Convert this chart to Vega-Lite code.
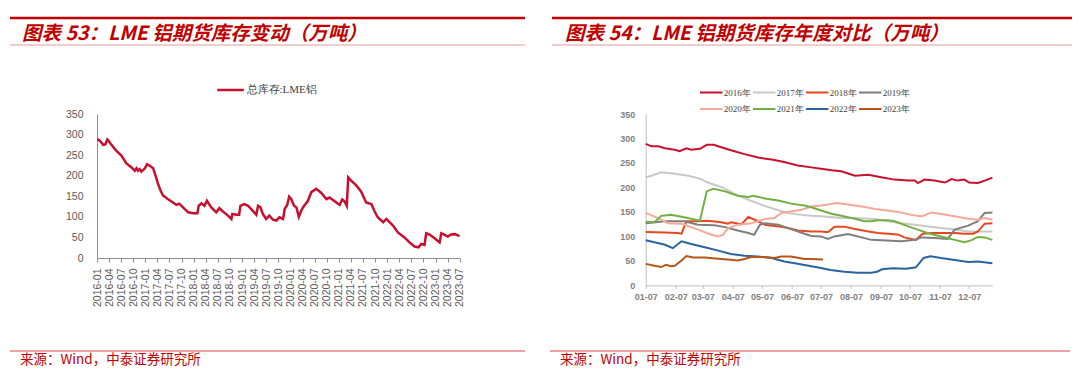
{
  "$schema": "https://vega.github.io/schema/vega-lite/v6.json",
  "padding": {"left": 8, "top": 16, "right": 0, "bottom": 0},
  "background": "white",
  "config": {
    "view": {"stroke": null},
    "font": "Liberation Sans",
    "axis": {"grid": false, "title": null, "labelFont": "Liberation Sans"}
  },
  "datasets": {
    "hdrL": [{"t": "图表 53：LME 铝期货库存变动（万吨）"}],
    "hdrR": [{"t": "图表 54：LME 铝期货库存年度对比（万吨）"}],
    "src": [{"t": "来源：Wind，中泰证券研究所"}],
    "lme": [
      {"d":"2016-01-04","v":289},{"d":"2016-01-22","v":285},{"d":"2016-02-04","v":280},{"d":"2016-02-16","v":275},
      {"d":"2016-03-04","v":276},{"d":"2016-03-19","v":288},{"d":"2016-03-28","v":285},{"d":"2016-04-19","v":275},
      {"d":"2016-05-25","v":261},{"d":"2016-07-03","v":249},{"d":"2016-08-10","v":230},{"d":"2016-09-18","v":220},
      {"d":"2016-10-12","v":212},{"d":"2016-10-25","v":218},{"d":"2016-11-06","v":212},{"d":"2016-11-19","v":216},
      {"d":"2016-12-01","v":210},{"d":"2016-12-28","v":218},{"d":"2017-01-13","v":228},{"d":"2017-02-03","v":224},
      {"d":"2017-02-28","v":218},{"d":"2017-03-18","v":200},{"d":"2017-04-06","v":180},{"d":"2017-04-25","v":164},
      {"d":"2017-05-13","v":152},{"d":"2017-06-21","v":143},{"d":"2017-07-28","v":135},{"d":"2017-08-22","v":129},
      {"d":"2017-09-12","v":132},{"d":"2017-10-12","v":123},{"d":"2017-11-19","v":111},{"d":"2017-12-27","v":109},
      {"d":"2018-01-28","v":109},{"d":"2018-02-07","v":127},{"d":"2018-02-28","v":133},{"d":"2018-03-22","v":127},
      {"d":"2018-04-10","v":139},{"d":"2018-05-13","v":123},{"d":"2018-06-19","v":111},{"d":"2018-07-13","v":121},
      {"d":"2018-08-09","v":113},{"d":"2018-09-16","v":103},{"d":"2018-10-12","v":95},{"d":"2018-10-19","v":107},
      {"d":"2018-11-19","v":105},{"d":"2018-12-09","v":105},{"d":"2018-12-19","v":127},{"d":"2019-01-16","v":131},
      {"d":"2019-02-15","v":127},{"d":"2019-03-10","v":119},{"d":"2019-04-18","v":105},{"d":"2019-05-01","v":127},
      {"d":"2019-05-19","v":123},{"d":"2019-06-06","v":107},{"d":"2019-07-01","v":95},{"d":"2019-07-25","v":103},
      {"d":"2019-08-22","v":93},{"d":"2019-09-15","v":91},{"d":"2019-10-10","v":99},{"d":"2019-11-06","v":95},
      {"d":"2019-11-18","v":119},{"d":"2019-12-07","v":129},{"d":"2019-12-22","v":149},{"d":"2020-01-07","v":143},
      {"d":"2020-01-28","v":127},{"d":"2020-02-15","v":123},{"d":"2020-03-04","v":100},{"d":"2020-03-22","v":115},
      {"d":"2020-04-04","v":123},{"d":"2020-05-12","v":139},{"d":"2020-06-06","v":160},{"d":"2020-07-13","v":168},
      {"d":"2020-08-21","v":158},{"d":"2020-09-28","v":143},{"d":"2020-10-22","v":147},{"d":"2020-12-12","v":135},
      {"d":"2021-01-06","v":129},{"d":"2021-01-25","v":142},{"d":"2021-02-13","v":137},{"d":"2021-03-01","v":127},
      {"d":"2021-03-12","v":196},{"d":"2021-04-03","v":188},{"d":"2021-05-10","v":177},{"d":"2021-06-18","v":161},
      {"d":"2021-07-25","v":135},{"d":"2021-09-03","v":131},{"d":"2021-09-27","v":113},{"d":"2021-10-21","v":99},
      {"d":"2021-12-01","v":87},{"d":"2021-12-25","v":95},{"d":"2022-02-13","v":79},{"d":"2022-03-22","v":62},
      {"d":"2022-05-10","v":50},{"d":"2022-06-18","v":38},{"d":"2022-07-25","v":28},{"d":"2022-08-25","v":26},
      {"d":"2022-09-15","v":34},{"d":"2022-10-09","v":32},{"d":"2022-10-22","v":60},{"d":"2022-11-16","v":57},
      {"d":"2022-12-24","v":48},{"d":"2023-01-31","v":38},{"d":"2023-02-13","v":60},{"d":"2023-03-07","v":57},
      {"d":"2023-04-03","v":52},{"d":"2023-04-28","v":57},{"d":"2023-05-28","v":58},{"d":"2023-06-30","v":53}
    ],
    "yoy": [
      {"s":"2016年","d":"2001-01-07","v":289},{"s":"2016年","d":"2001-01-13","v":284},{"s":"2016年","d":"2001-01-20","v":284},
      {"s":"2016年","d":"2001-01-27","v":280},{"s":"2016年","d":"2001-02-06","v":277},{"s":"2016年","d":"2001-02-11","v":274},
      {"s":"2016年","d":"2001-02-18","v":280},{"s":"2016年","d":"2001-02-23","v":277},{"s":"2016年","d":"2001-03-04","v":279},
      {"s":"2016年","d":"2001-03-11","v":287},{"s":"2016年","d":"2001-03-18","v":287},{"s":"2016年","d":"2001-03-26","v":282},
      {"s":"2016年","d":"2001-04-05","v":276},{"s":"2016年","d":"2001-04-19","v":268},{"s":"2016年","d":"2001-05-03","v":261},
      {"s":"2016年","d":"2001-05-17","v":257},{"s":"2016年","d":"2001-05-30","v":252},{"s":"2016年","d":"2001-06-13","v":245},
      {"s":"2016年","d":"2001-06-27","v":241},{"s":"2016年","d":"2001-07-07","v":238},{"s":"2016年","d":"2001-07-18","v":235},
      {"s":"2016年","d":"2001-07-28","v":233},{"s":"2016年","d":"2001-08-11","v":224},{"s":"2016年","d":"2001-08-25","v":226},
      {"s":"2016年","d":"2001-09-07","v":221},{"s":"2016年","d":"2001-09-21","v":216},{"s":"2016年","d":"2001-10-05","v":214},
      {"s":"2016年","d":"2001-10-12","v":214},{"s":"2016年","d":"2001-10-15","v":209},{"s":"2016年","d":"2001-10-22","v":216},
      {"s":"2016年","d":"2001-11-01","v":214},{"s":"2016年","d":"2001-11-12","v":210},{"s":"2016年","d":"2001-11-19","v":217},
      {"s":"2016年","d":"2001-11-25","v":214},{"s":"2016年","d":"2001-12-02","v":216},{"s":"2016年","d":"2001-12-07","v":210},
      {"s":"2016年","d":"2001-12-16","v":209},{"s":"2016年","d":"2001-12-23","v":214},{"s":"2016年","d":"2001-12-31","v":220},

      {"s":"2017年","d":"2001-01-07","v":221},{"s":"2017年","d":"2001-01-13","v":224},{"s":"2017年","d":"2001-01-23","v":231},
      {"s":"2017年","d":"2001-02-06","v":228},{"s":"2017年","d":"2001-02-20","v":224},{"s":"2017年","d":"2001-03-04","v":218},
      {"s":"2017年","d":"2001-03-12","v":210},{"s":"2017年","d":"2001-03-26","v":201},{"s":"2017年","d":"2001-04-09","v":187},
      {"s":"2017年","d":"2001-04-23","v":175},{"s":"2017年","d":"2001-05-06","v":165},{"s":"2017年","d":"2001-05-20","v":156},
      {"s":"2017年","d":"2001-06-03","v":148},{"s":"2017年","d":"2001-06-17","v":144},{"s":"2017年","d":"2001-06-27","v":142},
      {"s":"2017年","d":"2001-07-07","v":141},{"s":"2017年","d":"2001-07-28","v":137.5},{"s":"2017年","d":"2001-08-11","v":137.5},
      {"s":"2017年","d":"2001-09-01","v":135.5},{"s":"2017年","d":"2001-09-14","v":131},{"s":"2017年","d":"2001-09-28","v":127},
      {"s":"2017年","d":"2001-10-12","v":124},{"s":"2017年","d":"2001-10-26","v":120.5},{"s":"2017年","d":"2001-11-08","v":117},
      {"s":"2017年","d":"2001-11-22","v":114},{"s":"2017年","d":"2001-12-06","v":110},{"s":"2017年","d":"2001-12-20","v":110},
      {"s":"2017年","d":"2001-12-31","v":110},

      {"s":"2018年","d":"2001-01-07","v":109},{"s":"2018年","d":"2001-01-27","v":108},{"s":"2018年","d":"2001-02-09","v":107},
      {"s":"2018年","d":"2001-02-13","v":105.6},{"s":"2018年","d":"2001-02-18","v":131},{"s":"2018年","d":"2001-03-02","v":131},
      {"s":"2018年","d":"2001-03-12","v":132},{"s":"2018年","d":"2001-03-26","v":129},{"s":"2018年","d":"2001-04-02","v":126},
      {"s":"2018年","d":"2001-04-05","v":129},{"s":"2018年","d":"2001-04-16","v":125},{"s":"2018年","d":"2001-04-23","v":140},
      {"s":"2018年","d":"2001-05-03","v":131},{"s":"2018年","d":"2001-05-10","v":124},{"s":"2018年","d":"2001-05-24","v":120.5},
      {"s":"2018年","d":"2001-06-03","v":117},{"s":"2018年","d":"2001-06-13","v":112},{"s":"2018年","d":"2001-06-27","v":110},
      {"s":"2018年","d":"2001-07-07","v":110},{"s":"2018年","d":"2001-07-14","v":108.5},{"s":"2018年","d":"2001-07-21","v":120},
      {"s":"2018年","d":"2001-07-31","v":120},{"s":"2018年","d":"2001-08-11","v":115},{"s":"2018年","d":"2001-08-25","v":110},
      {"s":"2018年","d":"2001-09-04","v":107},{"s":"2018年","d":"2001-09-18","v":105},{"s":"2018年","d":"2001-09-25","v":103.5},
      {"s":"2018年","d":"2001-10-01","v":98},{"s":"2018年","d":"2001-10-13","v":93},{"s":"2018年","d":"2001-10-20","v":105.6},
      {"s":"2018年","d":"2001-10-29","v":107},{"s":"2018年","d":"2001-11-12","v":107},{"s":"2018年","d":"2001-11-22","v":107},
      {"s":"2018年","d":"2001-12-02","v":105.6},{"s":"2018年","d":"2001-12-11","v":105.6},{"s":"2018年","d":"2001-12-16","v":110},
      {"s":"2018年","d":"2001-12-23","v":126},{"s":"2018年","d":"2001-12-31","v":127},

      {"s":"2019年","d":"2001-01-07","v":127},{"s":"2019年","d":"2001-01-27","v":131},{"s":"2019年","d":"2001-02-16","v":131},
      {"s":"2019年","d":"2001-03-02","v":124},{"s":"2019年","d":"2001-03-19","v":122.6},{"s":"2019年","d":"2001-03-30","v":119},
      {"s":"2019年","d":"2001-04-12","v":112},{"s":"2019年","d":"2001-04-23","v":107},{"s":"2019年","d":"2001-04-29","v":103.5},
      {"s":"2019年","d":"2001-05-05","v":124},{"s":"2019年","d":"2001-05-10","v":127},{"s":"2019年","d":"2001-05-24","v":124},
      {"s":"2019年","d":"2001-06-06","v":115},{"s":"2019年","d":"2001-06-20","v":105.6},{"s":"2019年","d":"2001-06-27","v":101},
      {"s":"2019年","d":"2001-07-07","v":100},{"s":"2019年","d":"2001-07-14","v":94.7},{"s":"2019年","d":"2001-07-21","v":100},
      {"s":"2019年","d":"2001-08-04","v":105},{"s":"2019年","d":"2001-08-28","v":93},{"s":"2019年","d":"2001-09-28","v":90},
      {"s":"2019年","d":"2001-10-12","v":93},{"s":"2019年","d":"2001-10-19","v":98},{"s":"2019年","d":"2001-11-01","v":96.7},
      {"s":"2019年","d":"2001-11-15","v":95},{"s":"2019年","d":"2001-11-22","v":114},{"s":"2019年","d":"2001-12-06","v":122},
      {"s":"2019年","d":"2001-12-16","v":131},{"s":"2019年","d":"2001-12-23","v":148},{"s":"2019年","d":"2001-12-31","v":149},

      {"s":"2020年","d":"2001-01-07","v":148},{"s":"2020年","d":"2001-01-20","v":137.5},{"s":"2020年","d":"2001-01-30","v":127},
      {"s":"2020年","d":"2001-02-13","v":126},{"s":"2020年","d":"2001-03-02","v":114},{"s":"2020年","d":"2001-03-16","v":103.5},
      {"s":"2020年","d":"2001-03-23","v":100},{"s":"2020年","d":"2001-03-28","v":103.5},{"s":"2020年","d":"2001-04-02","v":117},
      {"s":"2020年","d":"2001-04-12","v":124},{"s":"2020年","d":"2001-04-26","v":127},{"s":"2020年","d":"2001-05-10","v":135.5},
      {"s":"2020年","d":"2001-05-20","v":137.5},{"s":"2020年","d":"2001-05-27","v":148},{"s":"2020年","d":"2001-06-06","v":151},
      {"s":"2020年","d":"2001-06-17","v":154.5},{"s":"2020年","d":"2001-06-27","v":161},{"s":"2020年","d":"2001-07-07","v":163},
      {"s":"2020年","d":"2001-07-14","v":165},{"s":"2020年","d":"2001-07-23","v":168},{"s":"2020年","d":"2001-08-04","v":165},
      {"s":"2020年","d":"2001-08-18","v":161},{"s":"2020年","d":"2001-09-01","v":156},{"s":"2020年","d":"2001-09-14","v":153},
      {"s":"2020年","d":"2001-09-28","v":149},{"s":"2020年","d":"2001-10-08","v":144},{"s":"2020年","d":"2001-10-19","v":141},
      {"s":"2020年","d":"2001-10-29","v":149},{"s":"2020年","d":"2001-11-08","v":146},{"s":"2020年","d":"2001-11-22","v":141},
      {"s":"2020年","d":"2001-12-06","v":136},{"s":"2020年","d":"2001-12-16","v":134},{"s":"2020年","d":"2001-12-23","v":137.5},
      {"s":"2020年","d":"2001-12-31","v":134},

      {"s":"2021年","d":"2001-01-07","v":130},{"s":"2021年","d":"2001-01-16","v":129},{"s":"2021年","d":"2001-01-23","v":142},
      {"s":"2021年","d":"2001-02-02","v":144},{"s":"2021年","d":"2001-02-13","v":140},{"s":"2021年","d":"2001-02-23","v":136},
      {"s":"2021年","d":"2001-03-04","v":132},{"s":"2021年","d":"2001-03-11","v":192},{"s":"2021年","d":"2001-03-18","v":197.5},
      {"s":"2021年","d":"2001-03-30","v":192},{"s":"2021年","d":"2001-04-12","v":183},{"s":"2021年","d":"2001-04-23","v":180.5},
      {"s":"2021年","d":"2001-04-28","v":183},{"s":"2021年","d":"2001-05-10","v":177.5},{"s":"2021年","d":"2001-05-24","v":173.5},
      {"s":"2021年","d":"2001-06-06","v":167},{"s":"2021年","d":"2001-06-20","v":163},{"s":"2021年","d":"2001-06-27","v":159.5},
      {"s":"2021年","d":"2001-07-07","v":153},{"s":"2021年","d":"2001-07-18","v":146.4},{"s":"2021年","d":"2001-07-28","v":142.4},
      {"s":"2021年","d":"2001-08-11","v":136},{"s":"2021年","d":"2001-08-21","v":131},{"s":"2021年","d":"2001-08-28","v":131},
      {"s":"2021年","d":"2001-09-04","v":133},{"s":"2021年","d":"2001-09-14","v":133},{"s":"2021年","d":"2001-09-21","v":131},
      {"s":"2021年","d":"2001-10-05","v":120.5},{"s":"2021年","d":"2001-10-15","v":114},{"s":"2021年","d":"2001-10-25","v":107},
      {"s":"2021年","d":"2001-11-08","v":100},{"s":"2021年","d":"2001-11-22","v":93},{"s":"2021年","d":"2001-12-02","v":88},
      {"s":"2021年","d":"2001-12-09","v":92},{"s":"2021年","d":"2001-12-16","v":99},{"s":"2021年","d":"2001-12-23","v":98},
      {"s":"2021年","d":"2001-12-31","v":93},

      {"s":"2022年","d":"2001-01-07","v":92},{"s":"2022年","d":"2001-01-16","v":88},{"s":"2022年","d":"2001-01-27","v":83},
      {"s":"2022年","d":"2001-02-04","v":76},{"s":"2022年","d":"2001-02-13","v":90},{"s":"2022年","d":"2001-02-23","v":84.5},
      {"s":"2022年","d":"2001-03-09","v":78},{"s":"2022年","d":"2001-03-23","v":71},{"s":"2022年","d":"2001-04-05","v":64},
      {"s":"2022年","d":"2001-04-19","v":60.6},{"s":"2022年","d":"2001-05-03","v":59},{"s":"2022年","d":"2001-05-17","v":56},
      {"s":"2022年","d":"2001-05-30","v":49},{"s":"2022年","d":"2001-06-13","v":44},{"s":"2022年","d":"2001-06-27","v":39},
      {"s":"2022年","d":"2001-07-03","v":37},{"s":"2022年","d":"2001-07-17","v":31.4},{"s":"2022年","d":"2001-07-31","v":28},
      {"s":"2022年","d":"2001-08-14","v":26},{"s":"2022年","d":"2001-08-28","v":26},{"s":"2022年","d":"2001-09-03","v":28},
      {"s":"2022年","d":"2001-09-08","v":33},{"s":"2022年","d":"2001-09-19","v":35},{"s":"2022年","d":"2001-10-03","v":33.8},
      {"s":"2022年","d":"2001-10-13","v":37},{"s":"2022年","d":"2001-10-21","v":56},{"s":"2022年","d":"2001-10-28","v":59.7},
      {"s":"2022年","d":"2001-11-08","v":56},{"s":"2022年","d":"2001-11-22","v":52},{"s":"2022年","d":"2001-12-06","v":48},
      {"s":"2022年","d":"2001-12-16","v":49},{"s":"2022年","d":"2001-12-31","v":45},

      {"s":"2023年","d":"2001-01-07","v":44},{"s":"2023年","d":"2001-01-16","v":40},{"s":"2023年","d":"2001-01-23","v":37.5},
      {"s":"2023年","d":"2001-01-28","v":42},{"s":"2023年","d":"2001-02-02","v":39},{"s":"2023年","d":"2001-02-06","v":40},
      {"s":"2023年","d":"2001-02-13","v":51},{"s":"2023年","d":"2001-02-18","v":60},{"s":"2023年","d":"2001-02-25","v":57},
      {"s":"2023年","d":"2001-03-09","v":57},{"s":"2023年","d":"2001-03-23","v":54.5},{"s":"2023年","d":"2001-04-05","v":52.5},
      {"s":"2023年","d":"2001-04-12","v":51},{"s":"2023年","d":"2001-04-19","v":54},{"s":"2023年","d":"2001-04-26","v":58},
      {"s":"2023年","d":"2001-05-10","v":58},{"s":"2023年","d":"2001-05-20","v":56},{"s":"2023年","d":"2001-05-27","v":59},
      {"s":"2023年","d":"2001-06-06","v":59},{"s":"2023年","d":"2001-06-13","v":56.5},{"s":"2023年","d":"2001-06-20","v":54},
      {"s":"2023年","d":"2001-06-27","v":54},{"s":"2023年","d":"2001-07-09","v":53}
    ]
  },
  "spacing": 29,
  "vconcat": [
    {
      "spacing": 23,
      "hconcat": [
        {
          "width": 515, "height": 27,
          "data": {"name": "hdrL"},
          "layer": [
            {"mark": {"type": "rule", "color": "#C00000", "strokeWidth": 2.5},
             "encoding": {"y": {"datum": 1, "type": "quantitative", "scale": {"domain": [0, 1], "nice": false}, "axis": null}}},
            {"mark": {"type": "rule", "color": "#E39A9A", "strokeWidth": 1},
             "encoding": {"y": {"datum": 0, "type": "quantitative", "axis": null}}},
            {"mark": {"type": "text", "align": "left", "baseline": "middle", "dx": 12, "dy": 2, "font": "Noto Sans CJK SC", "fontSize": 19.5, "fontWeight": "bold", "fontStyle": "italic", "color": "#C00000"},
             "encoding": {"x": {"datum": 0, "type": "quantitative", "scale": {"domain": [0, 1], "nice": false}, "axis": null},
                          "y": {"datum": 0.5, "type": "quantitative", "axis": null},
                          "text": {"field": "t"}}}
          ]
        },
        {
          "width": 520, "height": 27,
          "data": {"name": "hdrR"},
          "layer": [
            {"mark": {"type": "rule", "color": "#C00000", "strokeWidth": 2.5},
             "encoding": {"y": {"datum": 1, "type": "quantitative", "scale": {"domain": [0, 1], "nice": false}, "axis": null}}},
            {"mark": {"type": "rule", "color": "#E39A9A", "strokeWidth": 1},
             "encoding": {"y": {"datum": 0, "type": "quantitative", "axis": null}}},
            {"mark": {"type": "text", "align": "left", "baseline": "middle", "dx": 13, "dy": 2, "font": "Noto Sans CJK SC", "fontSize": 19.5, "fontWeight": "bold", "fontStyle": "italic", "color": "#C00000"},
             "encoding": {"x": {"datum": 0, "type": "quantitative", "scale": {"domain": [0, 1], "nice": false}, "axis": null},
                          "y": {"datum": 0.5, "type": "quantitative", "axis": null},
                          "text": {"field": "t"}}}
          ]
        }
      ]
    },
    {
      "spacing": 81.7,
      "resolve": {"scale": {"color": "independent", "strokeWidth": "independent", "x": "independent", "y": "independent"}, "legend": {"color": "independent"}},
      "hconcat": [
        {
          "spacing": 0,
          "resolve": {"scale": {"color": "independent"}, "legend": {"color": "independent"}},
          "hconcat": [
            {
              "width": 1, "height": 1,
              "data": {"values": []},
              "mark": {"type": "point", "opacity": 0},
              "encoding": {}
            },
            {
              "width": 362.6, "height": 144,
              "data": {"name": "lme"},
              "mark": {"type": "line", "strokeWidth": 2.5, "interpolate": "linear"},
              "encoding": {
                "x": {"field": "d", "type": "temporal",
                      "scale": {"type": "utc", "domain": [{"year": 2016, "month": 1, "date": 1, "utc": true}, {"year": 2023, "month": 7, "date": 1, "utc": true}]},
                      "axis": {"values": [
                        {"year":2016,"month":1,"date":1,"utc":true},{"year":2016,"month":4,"date":1,"utc":true},{"year":2016,"month":7,"date":1,"utc":true},{"year":2016,"month":10,"date":1,"utc":true},
                        {"year":2017,"month":1,"date":1,"utc":true},{"year":2017,"month":4,"date":1,"utc":true},{"year":2017,"month":7,"date":1,"utc":true},{"year":2017,"month":10,"date":1,"utc":true},
                        {"year":2018,"month":1,"date":1,"utc":true},{"year":2018,"month":4,"date":1,"utc":true},{"year":2018,"month":7,"date":1,"utc":true},{"year":2018,"month":10,"date":1,"utc":true},
                        {"year":2019,"month":1,"date":1,"utc":true},{"year":2019,"month":4,"date":1,"utc":true},{"year":2019,"month":7,"date":1,"utc":true},{"year":2019,"month":10,"date":1,"utc":true},
                        {"year":2020,"month":1,"date":1,"utc":true},{"year":2020,"month":4,"date":1,"utc":true},{"year":2020,"month":7,"date":1,"utc":true},{"year":2020,"month":10,"date":1,"utc":true},
                        {"year":2021,"month":1,"date":1,"utc":true},{"year":2021,"month":4,"date":1,"utc":true},{"year":2021,"month":7,"date":1,"utc":true},{"year":2021,"month":10,"date":1,"utc":true},
                        {"year":2022,"month":1,"date":1,"utc":true},{"year":2022,"month":4,"date":1,"utc":true},{"year":2022,"month":7,"date":1,"utc":true},{"year":2022,"month":10,"date":1,"utc":true},
                        {"year":2023,"month":1,"date":1,"utc":true},{"year":2023,"month":4,"date":1,"utc":true},{"year":2023,"month":7,"date":1,"utc":true}],
                        "labelExpr": "utcFormat(datum.value, '%Y-%m')",
                        "labelAngle": -90, "labelFontSize": 10.5, "labelColor": "#595959",
                        "labelOverlap": false, "labelFlush": false, "labelBound": false,
                        "tickSize": 4, "tickColor": "#8C8C8C", "labelPadding": 6,
                        "domainColor": "#8C8C8C", "minExtent": 63}},
                "y": {"field": "v", "type": "quantitative",
                      "scale": {"domain": [0, 350], "nice": false},
                      "axis": {"values": [0, 50, 100, 150, 200, 250, 300, 350], "labelFontSize": 10.5, "labelColor": "#595959",
                               "ticks": false, "labelPadding": 14, "domainColor": "#8C8C8C", "minExtent": 85.2}},
                "color": {"datum": "总库存:LME铝", "type": "nominal",
                          "scale": {"range": ["#C8102E"]},
                          "legend": {"orient": "none", "legendX": 118.5, "legendY": -39, "title": null, "padding": 0,
                                     "symbolType": "stroke", "symbolSize": 708, "symbolStrokeWidth": 2.5,
                                     "labelFont": "Liberation Serif", "labelFontSize": 11, "labelColor": "#404040", "labelOffset": 1}}
              }
            }
          ]
        },
        {
          "width": 346.7, "height": 171.4,
          "data": {"name": "yoy"},
          "mark": {"type": "line", "interpolate": "linear"},
          "encoding": {
            "x": {"field": "d", "type": "temporal",
                  "scale": {"type": "utc", "domain": [{"year": 2001, "month": 1, "date": 7, "utc": true}, {"year": 2001, "month": 12, "date": 31, "utc": true}]},
                  "axis": {"values": [
                    {"year":2001,"month":1,"date":7,"utc":true},{"year":2001,"month":2,"date":7,"utc":true},{"year":2001,"month":3,"date":7,"utc":true},
                    {"year":2001,"month":4,"date":7,"utc":true},{"year":2001,"month":5,"date":7,"utc":true},{"year":2001,"month":6,"date":7,"utc":true},
                    {"year":2001,"month":7,"date":7,"utc":true},{"year":2001,"month":8,"date":7,"utc":true},{"year":2001,"month":9,"date":7,"utc":true},
                    {"year":2001,"month":10,"date":7,"utc":true},{"year":2001,"month":11,"date":7,"utc":true},{"year":2001,"month":12,"date":7,"utc":true}],
                    "labelExpr": "utcFormat(datum.value, '%m-%d')",
                    "labelAngle": 0, "labelFontSize": 9, "labelFontWeight": "bold", "labelColor": "#7F7F7F",
                    "labelOverlap": false, "labelFlush": false,
                    "tickSize": 3, "tickColor": "#BFBFBF", "labelPadding": 4, "domainColor": "#BFBFBF"}},
            "y": {"field": "v", "type": "quantitative",
                  "scale": {"domain": [0, 350], "nice": false},
                  "axis": {"values": [0, 50, 100, 150, 200, 250, 300, 350], "labelFontSize": 9, "labelFontWeight": "bold", "labelColor": "#7F7F7F",
                           "ticks": false, "labelPadding": 11, "domainColor": "#BFBFBF", "minExtent": 98}},
            "color": {"field": "s", "type": "nominal",
                      "scale": {"domain": ["2016年", "2017年", "2018年", "2019年", "2020年", "2021年", "2022年", "2023年"],
                                "range": ["#C8102E", "#C8C8C8", "#E8461E", "#7F7F7F", "#F7A898", "#72B043", "#2A64A0", "#B85416"]},
                      "legend": {"orient": "none", "legendX": 53, "legendY": -27.5, "title": null, "padding": 0,
                                 "columns": 4, "direction": "horizontal", "rowPadding": 4.6, "columnPadding": 1, "clipHeight": 12,
                                 "symbolType": "stroke", "symbolSize": 506, "symbolStrokeWidth": 2.5,
                                 "labelFont": "Liberation Serif", "labelFontSize": 9, "labelColor": "#404040", "labelOffset": 0}},
            "strokeWidth": {"field": "s", "type": "nominal",
                            "scale": {"domain": ["2016年", "2017年", "2018年", "2019年", "2020年", "2021年", "2022年", "2023年"],
                                      "range": [2, 2, 2, 2, 2, 2, 2.8, 2.8]},
                            "legend": null}
          }
        }
      ]
    },
    {
      "spacing": 23,
      "hconcat": [
        {
          "width": 515, "height": 16,
          "data": {"name": "src"},
          "layer": [
            {"mark": {"type": "rule", "color": "#D64545", "strokeWidth": 1},
             "encoding": {"y": {"datum": 1, "type": "quantitative", "scale": {"domain": [0, 1], "nice": false}, "axis": null}}},
            {"mark": {"type": "text", "align": "left", "baseline": "middle", "dx": 10, "font": "Noto Sans CJK SC", "fontSize": 13.5, "color": "#C00000"},
             "encoding": {"x": {"datum": 0, "type": "quantitative", "scale": {"domain": [0, 1], "nice": false}, "axis": null},
                          "y": {"datum": 0.45, "type": "quantitative", "axis": null},
                          "text": {"field": "t"}}}
          ]
        },
        {
          "width": 520, "height": 16,
          "data": {"name": "src"},
          "layer": [
            {"mark": {"type": "rule", "color": "#D64545", "strokeWidth": 1},
             "encoding": {"y": {"datum": 1, "type": "quantitative", "scale": {"domain": [0, 1], "nice": false}, "axis": null}}},
            {"mark": {"type": "text", "align": "left", "baseline": "middle", "dx": 10, "font": "Noto Sans CJK SC", "fontSize": 13.5, "color": "#C00000"},
             "encoding": {"x": {"datum": 0, "type": "quantitative", "scale": {"domain": [0, 1], "nice": false}, "axis": null},
                          "y": {"datum": 0.45, "type": "quantitative", "axis": null},
                          "text": {"field": "t"}}}
          ]
        }
      ]
    }
  ]
}
